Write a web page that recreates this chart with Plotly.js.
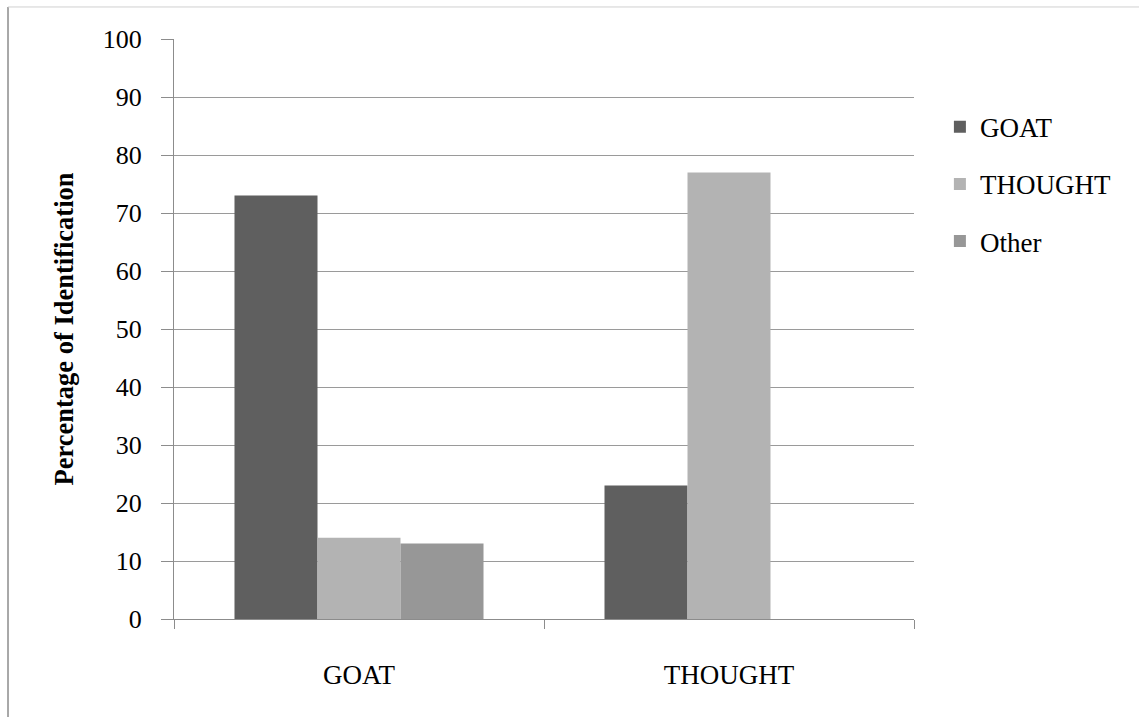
<!DOCTYPE html>
<html>
<head>
<meta charset="utf-8">
<script src="https://cdn.plot.ly/plotly-3.0.1.min.js"></script>
<style>
html,body{margin:0;padding:0;background:#fff;}
#chart{width:1139px;height:717px;}
</style>
</head>
<body>
<div id="chart"></div>
<script>
const categories = ["GOAT", "THOUGHT"];
const seriesNames = ["GOAT", "THOUGHT", "Other"];
const goatValues = [73, 23];
const thoughtValues = [14, 77];
const otherValues = [13, 0];
const yTickValues = [0, 10, 20, 30, 40, 50, 60, 70, 80, 90, 100];

const colors = ["#5f5f5f", "#b3b3b3", "#979797"];
const seriesValues = [goatValues, thoughtValues, otherValues];

const traces = seriesNames.map((name, i) => ({
  type: "bar",
  name: name,
  x: categories,
  y: seriesValues[i],
  marker: {color: colors[i], line: {width: 0}},
  legendgroup: name,
  hoverinfo: "x+y+name"
}));

const fontFam = "'Liberation Serif', 'Times New Roman', serif";

const layout = {
  width: 1139,
  height: 717,
  margin: {l: 174, r: 225, t: 39, b: 98},
  paper_bgcolor: "#ffffff",
  plot_bgcolor: "#ffffff",
  font: {family: fontFam, size: 27, color: "#000000"},
  barmode: "group",
  bargap: 0.327,
  bargroupgap: 0,
  showlegend: true,
  legend: {
    x: 1.035, y: 0.89, xanchor: "left", yanchor: "top",
    font: {family: fontFam, size: 27, color: "#000"},
    tracegroupgap: 19,
    bgcolor: "rgba(0,0,0,0)"
  },
  xaxis: {
    type: "category",
    tickson: "boundaries",
    ticks: "outside",
    ticklen: 9,
    tickcolor: "#8c8c8c",
    tickwidth: 1,
    showline: true,
    linecolor: "#8c8c8c",
    linewidth: 1,
    showgrid: false,
    ticklabelstandoff: 32,
    tickfont: {family: fontFam, size: 27, color: "#000"}
  },
  yaxis: {
    range: [0, 100],
    tickvals: yTickValues,
    ticktext: yTickValues.map(String),
    ticks: "outside",
    ticklen: 12,
    tickcolor: "#8c8c8c",
    showline: true,
    linecolor: "#8c8c8c",
    linewidth: 1,
    showgrid: true,
    gridcolor: "#9a9a9a",
    gridwidth: 1,
    zeroline: false,
    ticklabelstandoff: 14,
    tickfont: {family: fontFam, size: 26, color: "#000"},
    title: {
      text: "<b>Percentage of Identification</b>",
      font: {family: fontFam, size: 26.5, color: "#000"},
      standoff: 21
    }
  },
  shapes: [
    {type: "line", xref: "paper", yref: "paper", x0: -0.2243, x1: -0.2243, y0: 1.0552, y1: -0.175,
     line: {color: "#a8a8a8", width: 2}},
    {type: "line", xref: "paper", yref: "paper", x0: -0.2243, x1: 1.31, y0: 1.0552, y1: 1.0552,
     line: {color: "#d0d0d0", width: 1}}
  ]
};

Plotly.newPlot("chart", traces, layout, {displayModeBar: false, staticPlot: true});
</script>
</body>
</html>
